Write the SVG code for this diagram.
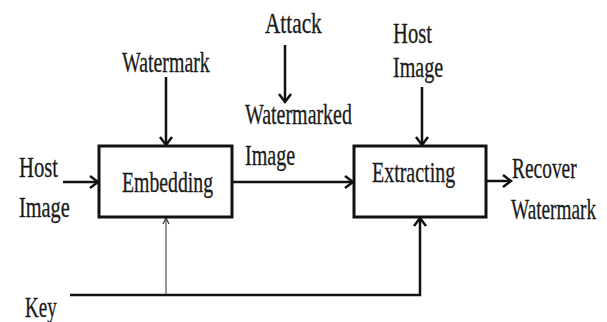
<svg xmlns="http://www.w3.org/2000/svg" width="607" height="322" viewBox="0 0 607 322">
<style>
text{font-family:"Liberation Serif","DejaVu Serif",serif;font-size:30px;fill:#1a1a1a;stroke:#1a1a1a;stroke-width:0.3}
.box{fill:#fff;stroke:#111;stroke-width:3}
.ln{fill:none;stroke:#111;stroke-width:2.5}
.thin{fill:none;stroke:#333;stroke-width:1}
</style>
<defs>
<marker id="ah" markerUnits="userSpaceOnUse" markerWidth="14" markerHeight="16" viewBox="0 0 14 16" refX="11" refY="8" orient="auto">
<path d="M3,2 L11,8 L3,14" fill="none" stroke="#111" stroke-width="2.5"/>
</marker>
<marker id="ahs" markerUnits="userSpaceOnUse" markerWidth="10" markerHeight="10" viewBox="0 0 10 10" refX="8" refY="5" orient="auto">
<path d="M2,2 L8,5 L2,8" fill="none" stroke="#333" stroke-width="1.2"/>
</marker>
</defs>
<g id="connectors">
<line class="ln" x1="63" y1="182" x2="98" y2="182" marker-end="url(#ah)"/>
<line class="ln" x1="166" y1="77" x2="166" y2="145" marker-end="url(#ah)"/>
<line class="ln" x1="285" y1="45" x2="285" y2="102" marker-end="url(#ah)"/>
<line class="ln" x1="232" y1="182" x2="353" y2="182" marker-end="url(#ah)"/>
<line class="ln" x1="422" y1="87" x2="422" y2="145" marker-end="url(#ah)"/>
<line class="ln" x1="486" y1="181" x2="511" y2="181" marker-end="url(#ah)"/>
<polyline class="ln" points="70,295 420,295 420,218" marker-end="url(#ah)"/>
<line class="thin" x1="166" y1="295" x2="166" y2="218" marker-end="url(#ahs)"/>
</g>
<g id="embedding">
<rect class="box" x="99" y="146" width="133" height="71"/>
<text transform="matrix(0.66 0 0 1 122 192)" textLength="138" lengthAdjust="spacingAndGlyphs">Embedding</text>
</g>
<g id="extracting">
<rect class="box" x="354" y="146" width="132" height="71"/>
<text transform="matrix(0.66 0 0 1 372 182)" textLength="126" lengthAdjust="spacingAndGlyphs">Extracting</text>
</g>
<g id="watermark-in">
<text transform="matrix(0.66 0 0 1 122 72)" textLength="133" lengthAdjust="spacingAndGlyphs">Watermark</text>
</g>
<g id="attack">
<text transform="matrix(0.66 0 0 1 265 33)" textLength="86" lengthAdjust="spacingAndGlyphs">Attack</text>
</g>
<g id="watermarked-image">
<text transform="matrix(0.66 0 0 1 245 124)" textLength="162" lengthAdjust="spacingAndGlyphs">Watermarked</text>
<text transform="matrix(0.66 0 0 1 245 165)" textLength="76" lengthAdjust="spacingAndGlyphs">Image</text>
</g>
<g id="host-image-left">
<text transform="matrix(0.66 0 0 1 19 177)" textLength="59" lengthAdjust="spacingAndGlyphs">Host</text>
<text transform="matrix(0.66 0 0 1 19 217)" textLength="77" lengthAdjust="spacingAndGlyphs">Image</text>
</g>
<g id="host-image-right">
<text transform="matrix(0.66 0 0 1 393 43)" textLength="59" lengthAdjust="spacingAndGlyphs">Host</text>
<text transform="matrix(0.66 0 0 1 393 77)" textLength="76" lengthAdjust="spacingAndGlyphs">Image</text>
</g>
<g id="recover-watermark">
<text transform="matrix(0.66 0 0 1 512 178)" textLength="98" lengthAdjust="spacingAndGlyphs">Recover</text>
<text transform="matrix(0.66 0 0 1 511 219)" textLength="129" lengthAdjust="spacingAndGlyphs">Watermark</text>
</g>
<g id="key">
<text transform="matrix(0.66 0 0 1 25 317)" textLength="48" lengthAdjust="spacingAndGlyphs">Key</text>
</g>
</svg>
